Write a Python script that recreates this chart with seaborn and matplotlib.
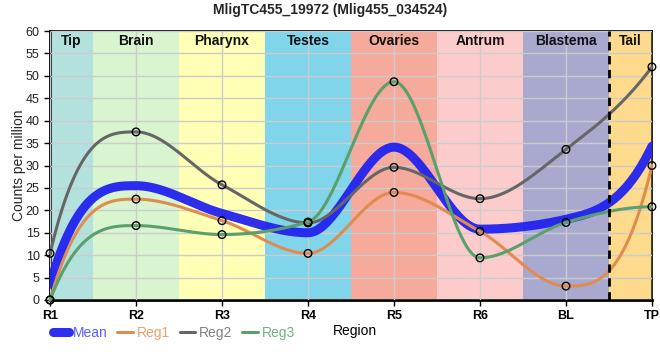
import numpy as np
import pandas as pd
import matplotlib
matplotlib.use("Agg")
import matplotlib.pyplot as plt
import seaborn as sns

# ---- data ----
regions = ["R1", "R2", "R3", "R4", "R5", "R6", "BL", "TP"]
mean_vals = [3.5, 25.5, 19.3, 15.0, 34.1, 15.8, 18.0, 34.3]
reg1_vals = [0.0, 22.5, 17.7, 10.4, 24.0, 15.3, 3.1, 30.0]
reg2_vals = [10.4, 37.5, 25.7, 17.2, 29.6, 22.6, 33.6, 52.0]
reg3_vals = [0.0, 16.6, 14.6, 17.4, 48.7, 9.4, 17.3, 20.8]
band_names = ["Tip", "Brain", "Pharynx", "Testes", "Ovaries", "Antrum", "Blastema", "Tail"]
band_colors = ["#b3e2de", "#d8f5d0", "#ffffb5", "#80d5ea", "#f5aa9b", "#fccbcb", "#a9a9d0", "#fdda8c"]
title = "MligTC455_19972 (Mlig455_034524)"


def monotone(x, y, n=40):
    """Monotone cubic (Steffen) smoothing for display."""
    x = np.asarray(x, float); y = np.asarray(y, float)
    h = np.diff(x); s = np.diff(y) / h
    m = np.zeros_like(y)
    for i in range(1, len(y) - 1):
        p = (s[i - 1] * h[i] + s[i] * h[i - 1]) / (h[i - 1] + h[i])
        m[i] = (np.sign(s[i - 1]) + np.sign(s[i])) * min(abs(s[i - 1]), abs(s[i]), 0.5 * abs(p))

    def endslope(sv, mn):
        v = 3 * sv - 2 * mn
        if sv >= 0:
            return float(np.clip(v, 0, 3 * sv))
        return float(np.clip(v, 3 * sv, 0))

    m[0] = endslope(s[0], m[1])
    m[-1] = endslope(s[-1], m[-2])
    xs, ys = [], []
    for i in range(len(y) - 1):
        t = np.linspace(0, 1, n, endpoint=(i == len(y) - 2))
        h00 = 2 * t**3 - 3 * t**2 + 1; h10 = t**3 - 2 * t**2 + t
        h01 = -2 * t**3 + 3 * t**2; h11 = t**3 - t**2
        xs.append(x[i] + t * h[i])
        ys.append(h00 * y[i] + h10 * h[i] * m[i] + h01 * y[i + 1] + h11 * h[i] * m[i + 1])
    return np.concatenate(xs), np.concatenate(ys)


sns.set_theme(style="white")
plt.rcParams["font.family"] = ["Liberation Sans", "DejaVu Sans"]

fig = plt.figure(figsize=(6.6, 3.6), dpi=100)
ax = fig.add_axes([0.0758, 0.1667, 0.912, 0.747])

xpos = np.arange(len(regions))
# bands
for i, (name, col) in enumerate(zip(band_names, band_colors)):
    lo = max(i - 0.5, 0); hi = min(i + 0.5, len(regions) - 1)
    ax.axvspan(lo, hi, color=col, lw=0, zorder=0)
    ax.text((lo + hi) / 2, 57.8, name, ha="center", va="center",
            fontsize=10, fontweight="bold", color="#111111", zorder=5)

ax.set_xlim(0, len(regions) - 1)
ax.set_ylim(0, 60)
ax.set_yticks(np.arange(0, 61, 5))
ax.set_xticks(xpos)
ax.set_xticklabels(regions)
ax.grid(True, color="#cccccc", lw=1, zorder=1)
ax.set_axisbelow(False)
for gl in ax.get_xgridlines() + ax.get_ygridlines():
    gl.set_zorder(1)

series = [("Reg1", reg1_vals, "#e08c50", 2.2),
          ("Reg2", reg2_vals, "#666666", 2.2),
          ("Reg3", reg3_vals, "#5aa06a", 2.2)]

xs, ys = monotone(xpos, mean_vals)
sns.lineplot(x=xs, y=ys, ax=ax, color="#2222f0", lw=6.5, alpha=0.95, label="Mean",
             sort=False, zorder=3)
for name, vals, col, lw in series:
    xs, ys = monotone(xpos, vals)
    sns.lineplot(x=xs, y=ys, ax=ax, color=col, lw=lw, label=name, sort=False, zorder=3,
                 clip_on=False)
for name, vals, col, lw in series:
    sns.scatterplot(x=xpos, y=vals, ax=ax, s=30, facecolor="none", edgecolor="black",
                    linewidth=1, zorder=6, clip_on=False, legend=False)

# dashed divider before tail
ax.axvline(6.5, color="black", lw=2, ls=(0, (3, 2)), zorder=7)

for sp in ax.spines.values():
    sp.set_color("black"); sp.set_linewidth(1.2); sp.set_visible(True)
ax.spines["bottom"].set_linewidth(2)
ax.spines["left"].set_linewidth(2)
ax.tick_params(axis="both", length=4, width=1, color="black", labelsize=9, bottom=True, left=True)
for lab in ax.get_xticklabels():
    lab.set_fontweight("bold"); lab.set_color("black")
for lab in ax.get_yticklabels():
    lab.set_color("#222222")

ax.set_ylabel("Counts per million", fontsize=10)
ax.yaxis.set_label_coords(-0.04, 0.5)
ax.set_xlabel("")
fig.text(0.505, 0.081, "Region", fontsize=10, ha="left", va="center", color="black")
fig.text(0.5, 0.972, title, ha="center", va="center", fontsize=10, fontweight="bold")

leg = ax.legend(loc="upper left", bbox_to_anchor=(-0.015, -0.05), ncol=4, frameon=False,
                fontsize=10, handlelength=1.1, handletextpad=0.3, columnspacing=0.7)
text_cols = ["#5a5aff", "#e8a070", "#808080", "#70b080"]
for t, c in zip(leg.get_texts(), text_cols):
    t.set_color(c)

fig.savefig("out.png", dpi=100)
